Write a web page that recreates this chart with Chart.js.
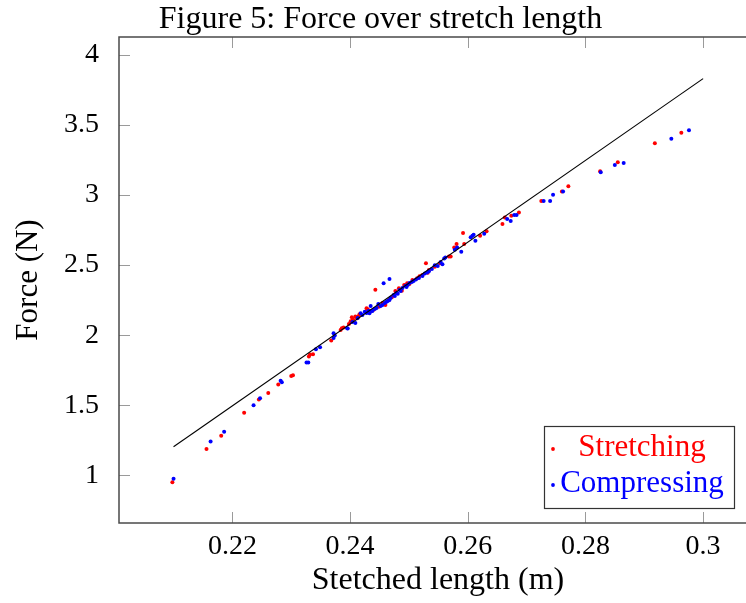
<!DOCTYPE html>
<html>
<head>
<meta charset="utf-8">
<script src="https://cdn.jsdelivr.net/npm/chart.js@4.4.1/dist/chart.umd.min.js"></script>
<style>
  html, body { margin: 0; padding: 0; background: #fff; overflow: hidden; }
  canvas { display: block; }
</style>
</head>
<body>
<canvas id="forceChart" width="761" height="603"></canvas>
<script>
// Stretching series (red)
const stretchX = [0.2098, 0.2156, 0.2181, 0.2220, 0.2245, 0.2261, 0.2278, 0.2300, 0.2303, 0.2330,
    0.2332, 0.2337, 0.2368, 0.2384, 0.2386, 0.2389, 0.2398, 0.2401, 0.2403, 0.2405,
    0.2409, 0.2412, 0.2414, 0.2416, 0.2428, 0.2430, 0.2435, 0.2443, 0.2449, 0.2460,
    0.2466, 0.2477, 0.2483, 0.2492, 0.2497, 0.2506, 0.2514, 0.2523, 0.2529, 0.2532,
    0.2534, 0.2544, 0.2553, 0.2568, 0.2571, 0.2577, 0.2581, 0.2592, 0.2594, 0.2621,
    0.2632, 0.2659, 0.2663, 0.2674, 0.2687, 0.2725, 0.2760, 0.2771, 0.2825, 0.2855,
    0.2918, 0.2963, 0.2440, 0.2455, 0.2471, 0.2488, 0.2501, 0.2518];
const stretchY = [0.952, 1.188, 1.284, 1.448, 1.541, 1.588, 1.648, 1.709, 1.714, 1.848,
    1.862, 1.864, 1.962, 2.038, 2.050, 2.055, 2.081, 2.100, 2.128, 2.114,
    2.133, 2.121, 2.134, 2.150, 2.193, 2.186, 2.173, 2.324, 2.204, 2.216,
    2.252, 2.316, 2.335, 2.359, 2.371, 2.394, 2.407, 2.430, 2.514, 2.445,
    2.466, 2.489, 2.514, 2.562, 2.562, 2.626, 2.650, 2.729, 2.650, 2.709,
    2.741, 2.793, 2.840, 2.852, 2.876, 2.957, 3.026, 3.062, 3.169, 3.233,
    3.369, 3.445, 2.181, 2.230, 2.271, 2.318, 2.366, 2.421];

// Compressing series (blue)
const compressX = [0.2100, 0.2163, 0.2186, 0.2236, 0.2247, 0.2282, 0.2284, 0.2326, 0.2329, 0.2342,
    0.2349, 0.2372, 0.2374, 0.2372, 0.2395, 0.2396, 0.2404, 0.2409, 0.2413, 0.2418,
    0.2421, 0.2428, 0.2431, 0.2433, 0.2436, 0.2435, 0.2438, 0.2442, 0.2445, 0.2452,
    0.2455, 0.2457, 0.2459, 0.2464, 0.2467, 0.2467, 0.2469, 0.2474, 0.2476, 0.2479,
    0.2484, 0.2486, 0.2489, 0.2494, 0.2498, 0.2501, 0.2505, 0.2508, 0.2517, 0.2523,
    0.2531, 0.2534, 0.2539, 0.2544, 0.2549, 0.2554, 0.2557, 0.2560, 0.2562, 0.2578,
    0.2582, 0.2589, 0.2605, 0.2608, 0.2610, 0.2613, 0.2628, 0.2667, 0.2673, 0.2679,
    0.2683, 0.2729, 0.2740, 0.2745, 0.2762, 0.2826, 0.2850, 0.2865, 0.2946, 0.2976,
    0.2425, 0.2448, 0.2462, 0.2481, 0.2496, 0.2512, 0.2527];
const compressY = [0.976, 1.243, 1.312, 1.500, 1.550, 1.676, 1.664, 1.805, 1.805, 1.900,
    1.914, 1.981, 1.998, 2.014, 2.050, 2.048, 2.095, 2.088, 2.123, 2.157,
    2.145, 2.159, 2.173, 2.157, 2.174, 2.209, 2.173, 2.188, 2.195, 2.209,
    2.216, 2.371, 2.230, 2.245, 2.252, 2.402, 2.266, 2.287, 2.280, 2.302,
    2.323, 2.316, 2.337, 2.352, 2.359, 2.373, 2.380, 2.387, 2.409, 2.423,
    2.448, 2.457, 2.473, 2.500, 2.494, 2.523, 2.507, 2.548, 2.555, 2.609,
    2.626, 2.595, 2.698, 2.709, 2.716, 2.674, 2.724, 2.829, 2.814, 2.857,
    2.857, 2.957, 2.957, 3.002, 3.026, 3.162, 3.214, 3.229, 3.402, 3.462,
    2.168, 2.222, 2.238, 2.296, 2.344, 2.398, 2.440];

// Fitted line end points
const fitX = [0.21, 0.30];
const fitY = [1.205, 3.83];

// Axis ticks
const xTicks = [0.22, 0.24, 0.26, 0.28, 0.30];
const xTickLabels = ['0.22', '0.24', '0.26', '0.28', '0.3'];
const yTicks = [1, 1.5, 2, 2.5, 3, 3.5, 4];
const yTickLabels = ['1', '1.5', '2', '2.5', '3', '3.5', '4'];

const serif = "'Liberation Serif', 'DejaVu Serif', serif";

function toPoints(xs, ys) {
    return xs.map((x, i) => ({ x: x, y: ys[i] }));
}

// Inward tick marks on all four sides plus the frame
const frameTicks = {
    id: 'frameTicks',
    afterDatasetsDraw(chart) {
        const { ctx, chartArea: a, scales } = chart;
        const len = 11;
        ctx.save();
        ctx.strokeStyle = '#9a9a9a';
        ctx.lineWidth = 1;
        ctx.beginPath();
        scales.x.ticks.forEach(t => {
            const px = Math.round(scales.x.getPixelForValue(t.value)) + 0.5;
            ctx.moveTo(px, a.bottom); ctx.lineTo(px, a.bottom - len);
            ctx.moveTo(px, a.top); ctx.lineTo(px, a.top + len);
        });
        scales.y.ticks.forEach(t => {
            const py = Math.round(scales.y.getPixelForValue(t.value)) + 0.5;
            ctx.moveTo(a.left, py); ctx.lineTo(a.left + len, py);
            ctx.moveTo(a.right, py); ctx.lineTo(a.right - len, py);
        });
        ctx.stroke();
        ctx.strokeStyle = '#4a4a4a';
        ctx.lineWidth = 1.5;
        ctx.strokeRect(a.left, a.top, a.right - a.left, a.bottom - a.top);
        ctx.restore();
    }
};

// Legend box in the lower right corner of the plot
const cornerLegend = {
    id: 'cornerLegend',
    afterDraw(chart) {
        const { ctx } = chart;
        const box = { left: 544, top: 426, width: 190, height: 82 };
        const items = chart.data.datasets.filter(d => d.inLegend);
        ctx.save();
        ctx.fillStyle = '#fff';
        ctx.fillRect(box.left, box.top, box.width, box.height);
        ctx.strokeStyle = '#333';
        ctx.lineWidth = 1.2;
        ctx.strokeRect(box.left + 0.5, box.top + 0.5, box.width, box.height);
        ctx.font = '31px ' + serif;
        ctx.textAlign = 'center';
        ctx.textBaseline = 'middle';
        items.forEach((d, i) => {
            const cy = box.top + 22 + i * 36;
            ctx.fillStyle = d.backgroundColor;
            ctx.beginPath();
            ctx.arc(box.left + 9, cy + 1, 1.9, 0, Math.PI * 2);
            ctx.fill();
            ctx.fillText(d.label, box.left + 98, cy);
        });
        ctx.restore();
    }
};

const chart = new Chart(document.getElementById('forceChart'), {
    type: 'scatter',
    data: {
        datasets: [
            {
                label: 'fit',
                data: toPoints(fitX, fitY),
                showLine: true,
                borderColor: '#000',
                borderWidth: 1.1,
                pointRadius: 0,
                order: 0
            },
            {
                label: 'Stretching',
                data: toPoints(stretchX, stretchY),
                backgroundColor: '#ff0000',
                borderWidth: 0,
                pointRadius: 2,
                inLegend: true,
                order: 2
            },
            {
                label: 'Compressing',
                data: toPoints(compressX, compressY),
                backgroundColor: '#0000ff',
                borderWidth: 0,
                pointRadius: 2,
                inLegend: true,
                order: 1
            }
        ]
    },
    options: {
        responsive: false,
        animation: false,
        devicePixelRatio: 1,
        layout: { padding: { left: 0, right: 0, top: 0, bottom: 0 } },
        scales: {
            x: {
                type: 'linear',
                min: 0.20073,
                max: 0.30916,
                grid: { display: false },
                border: { display: false },
                afterBuildTicks: scale => { scale.ticks = xTicks.map(v => ({ value: v })); },
                afterFit: scale => { scale.height = 80; },
                ticks: {
                    color: '#000',
                    padding: -1,
                    maxRotation: 0,
                    font: { family: serif, size: 28 },
                    callback: (value, i) => xTickLabels[i]
                },
                title: {
                    display: true,
                    text: 'Stetched length (m)',
                    color: '#000',
                    padding: 3,
                    font: { family: serif, size: 32 }
                }
            },
            y: {
                type: 'linear',
                min: 0.661,
                max: 4.127,
                grid: { display: false },
                border: { display: false },
                afterBuildTicks: scale => { scale.ticks = yTicks.map(v => ({ value: v })); },
                afterFit: scale => { scale.width = 119; },
                ticks: {
                    color: '#000',
                    padding: 12,
                    font: { family: serif, size: 28 },
                    callback: (value, i) => yTickLabels[i]
                },
                title: {
                    display: true,
                    text: 'Force (N)',
                    color: '#000',
                    padding: 10,
                    font: { family: serif, size: 31 }
                }
            }
        },
        plugins: {
            legend: { display: false },
            tooltip: { enabled: false },
            title: {
                display: true,
                text: 'Figure 5: Force over stretch length',
                color: '#000',
                padding: { top: 4, bottom: 1 },
                font: { family: serif, size: 32, weight: 'normal', lineHeight: 1.0 }
            }
        }
    },
    plugins: [frameTicks, cornerLegend]
});
</script>
</body>
</html>
